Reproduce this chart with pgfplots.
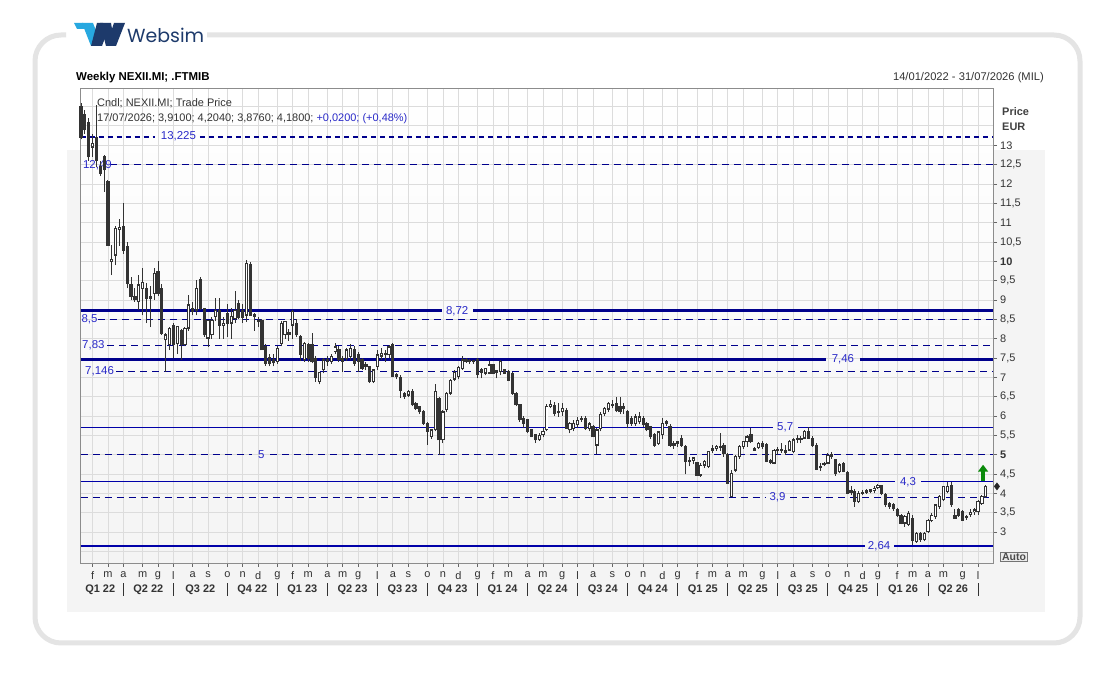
\documentclass[border=0pt]{standalone}
\usepackage{pgfplots}
\pgfplotsset{compat=1.18}
\usepackage{pgfplotstable}
\usepackage{fontspec}
\setmainfont{Liberation Sans}
\newfontfamily\logofont{Poppins}
\usetikzlibrary{arrows.meta}
\definecolor{cndl}{HTML}{333333}
\definecolor{navyl}{HTML}{00008C}
\definecolor{navyt}{HTML}{0000A8}
\definecolor{lblue}{HTML}{2A2AC8}
\definecolor{txt}{HTML}{333333}
\definecolor{gridc}{HTML}{DCDCDC}
\definecolor{framec}{HTML}{E4E4E4}
\definecolor{panelc}{HTML}{F4F4F4}
\definecolor{logoblue}{HTML}{27A8E0}
\definecolor{logonavy}{HTML}{1D3A6B}
\definecolor{arrowg}{HTML}{0A8A0A}
\newcommand{\fs}[1]{\fontsize{#1}{#1}\selectfont}

\pgfplotstableread{
i o h l c
0 14.00 14.10 13.15 13.20
1 13.80 13.90 13.30 13.40
2 13.60 13.70 12.60 12.70
3 12.95 13.30 12.70 13.05
4 13.20 14.05 12.45 12.60
5 12.45 12.60 12.20 12.28
6 12.70 12.75 11.80 12.36
7 12.06 12.10 10.40 10.42
8 10.00 10.42 9.64 10.05
9 10.16 10.90 9.90 10.85
10 10.82 11.10 10.40 10.88
11 10.90 11.50 10.20 10.29
12 10.38 10.50 9.30 9.43
13 9.39 9.60 9.00 9.10
14 9.10 9.30 8.95 9.00
15 8.96 9.65 8.74 9.39
16 9.30 9.82 8.60 9.45
17 9.30 9.45 8.40 9.04
18 9.09 9.35 8.30 9.04
19 9.17 9.82 9.00 9.69
20 9.73 10.02 9.10 9.17
21 9.30 9.40 8.10 8.14
22 7.97 8.15 7.146 8.10
23 7.84 8.30 7.70 8.27
24 8.35 8.40 7.49 7.84
25 7.88 8.32 7.60 8.31
26 8.22 8.25 7.45 7.84
27 7.84 8.30 7.80 8.27
28 8.27 9.13 8.20 8.87
29 8.78 8.95 8.60 8.70
30 8.74 9.52 8.60 9.30
31 9.52 9.60 8.75 8.78
32 8.78 8.80 8.05 8.10
33 8.01 8.40 7.79 8.48
34 8.10 8.55 8.00 8.48
35 8.57 9.04 8.45 8.74
36 8.74 9.04 8.00 8.35
37 8.35 8.55 8.00 8.40
38 8.66 8.90 8.05 8.40
39 8.40 8.78 8.00 8.57
40 8.52 9.22 8.40 8.74
41 8.90 9.00 8.50 8.55
42 8.74 8.90 8.40 8.55
43 8.61 10.03 8.44 9.95
44 9.92 9.98 8.60 8.61
45 8.62 8.65 8.20 8.58
46 8.46 8.55 8.30 8.44
47 8.48 8.52 7.70 7.71
48 7.79 7.85 7.30 7.36
49 7.50 7.60 7.28 7.36
50 7.45 7.60 7.28 7.38
51 7.41 7.80 7.35 7.75
52 7.88 8.45 7.80 8.40
53 8.10 8.45 8.00 8.44
54 8.16 8.25 7.95 8.12
55 8.35 8.74 8.00 8.70
56 8.40 8.50 8.05 8.10
57 8.05 8.10 7.42 7.60
58 7.45 7.92 7.40 7.88
59 7.84 7.88 7.40 7.49
60 7.84 8.14 7.36 7.40
61 7.49 7.55 6.89 7.00
62 6.89 7.15 6.82 7.12
63 7.19 7.50 7.10 7.45
64 7.45 7.55 7.30 7.41
65 7.41 7.60 7.35 7.54
66 7.67 7.88 7.60 7.79
67 7.73 7.80 7.40 7.45
68 7.49 7.55 7.15 7.41
69 7.49 7.75 7.42 7.71
70 7.54 7.85 7.45 7.75
71 7.71 7.80 7.30 7.36
72 7.58 7.65 7.15 7.41
73 7.45 7.50 7.20 7.23
74 7.32 7.40 7.20 7.28
75 7.28 7.30 6.85 6.89
76 6.89 7.20 6.85 7.19
77 7.28 7.70 7.20 7.58
78 7.55 7.75 7.45 7.62
79 7.62 7.70 7.40 7.59
80 7.58 7.84 7.50 7.79
81 7.84 7.90 7.00 7.02
82 7.06 7.10 6.95 7.02
83 7.00 7.05 6.46 6.67
84 6.59 6.62 6.45 6.50
85 6.54 6.68 6.50 6.63
86 6.63 6.70 6.25 6.29
87 6.33 6.35 6.15 6.20
88 6.24 6.25 6.05 6.11
89 6.11 6.15 5.78 5.81
90 5.81 5.85 5.25 5.60
91 5.47 5.65 5.40 5.64
92 5.64 6.82 5.60 6.63
93 6.46 6.50 4.99 5.38
94 5.38 6.15 5.30 6.11
95 6.16 6.62 6.10 6.59
96 6.59 6.95 6.55 6.93
97 6.95 7.20 6.90 7.12
98 7.02 7.30 6.95 7.26
99 7.23 7.54 7.20 7.45
100 7.45 7.50 7.38 7.42
101 7.41 7.47 7.35 7.44
102 7.43 7.46 7.35 7.40
103 7.45 7.50 6.98 7.08
104 7.19 7.25 6.97 7.13
105 7.11 7.25 7.05 7.23
106 7.11 7.41 7.08 7.32
107 7.32 7.35 7.08 7.11
108 7.17 7.20 6.97 7.13
109 7.15 7.45 7.05 7.41
110 7.19 7.22 7.08 7.11
111 7.15 7.18 6.90 6.93
112 7.11 7.13 6.55 6.59
113 6.59 6.62 6.25 6.29
114 6.29 6.30 5.85 5.90
115 5.94 6.00 5.68 5.81
116 5.90 5.92 5.55 5.60
117 5.64 5.66 5.45 5.47
118 5.51 5.53 5.30 5.38
119 5.38 5.55 5.36 5.50
120 5.51 5.70 5.45 5.60
121 5.64 6.30 5.60 6.24
122 6.24 6.41 6.20 6.30
123 6.28 6.35 6.00 6.07
124 6.12 6.33 5.98 6.10
125 6.11 6.33 6.00 6.20
126 6.15 6.20 5.68 5.68
127 5.64 5.85 5.55 5.81
128 5.68 5.90 5.60 5.81
129 5.77 5.98 5.70 5.89
130 5.92 6.00 5.85 5.94
131 5.94 6.00 5.65 5.68
132 5.68 5.85 5.60 5.80
133 5.72 5.78 5.45 5.46
134 5.25 5.70 5.03 5.64
135 5.68 6.10 5.60 6.05
136 6.07 6.22 6.00 6.20
137 6.18 6.36 6.10 6.33
138 6.28 6.42 6.20 6.30
139 6.33 6.50 6.10 6.13
140 6.24 6.50 6.05 6.11
141 6.20 6.33 6.05 6.24
142 6.11 6.15 5.68 5.81
143 5.94 6.00 5.75 5.81
144 5.81 6.05 5.75 5.98
145 5.85 6.10 5.80 5.98
146 5.94 6.00 5.72 5.77
147 5.80 5.85 5.60 5.64
148 5.72 5.75 5.40 5.46
149 5.51 5.55 5.20 5.25
150 5.29 5.60 5.25 5.59
151 5.51 5.94 5.40 5.81
152 5.85 5.90 5.75 5.80
153 5.72 5.80 5.20 5.25
154 5.25 5.35 5.15 5.29
155 5.30 5.35 5.20 5.33
156 5.42 5.51 5.20 5.25
157 5.21 5.25 4.49 4.82
158 4.86 4.95 4.70 4.82
159 4.86 4.95 4.75 4.92
160 4.80 4.82 4.45 4.47
161 4.47 4.78 4.43 4.73
162 4.73 4.85 4.65 4.82
163 4.70 5.10 4.65 5.08
164 5.12 5.25 5.05 5.16
165 5.16 5.25 5.10 5.21
166 5.19 5.55 5.10 5.21
167 5.25 5.30 4.95 5.03
168 5.00 5.05 4.25 4.26
169 3.91 4.60 3.90 4.52
170 4.60 5.00 4.55 4.95
171 4.95 5.25 4.90 5.21
172 5.21 5.35 5.15 5.35
173 5.33 5.50 5.20 5.46
174 5.51 5.68 5.30 5.33
175 5.16 5.20 5.10 5.12
176 5.18 5.33 5.15 5.29
177 5.28 5.35 5.15 5.21
178 5.27 5.30 4.80 4.82
179 4.84 4.90 4.75 4.80
180 4.78 5.15 4.75 5.12
181 5.10 5.20 5.00 5.12
182 5.10 5.30 5.05 5.14
183 5.12 5.25 5.00 5.05
184 5.12 5.38 5.10 5.34
185 5.08 5.43 5.05 5.38
186 5.40 5.52 5.30 5.43
187 5.38 5.48 5.30 5.42
188 5.43 5.64 5.40 5.60
189 5.60 5.71 5.40 5.43
190 5.43 5.48 5.20 5.25
191 5.25 5.30 4.60 4.62
192 4.66 4.78 4.58 4.69
193 4.74 4.82 4.70 4.78
194 4.78 5.04 4.75 4.99
195 5.00 5.06 4.90 4.95
196 4.87 4.90 4.45 4.52
197 4.56 4.78 4.52 4.74
198 4.78 4.80 4.54 4.56
199 4.54 4.58 3.98 4.00
200 4.03 4.18 3.95 4.07
201 4.05 4.10 3.66 3.79
202 3.79 4.05 3.75 4.00
203 4.00 4.08 3.95 4.03
204 4.03 4.10 3.98 4.07
205 4.05 4.12 4.00 4.09
206 4.07 4.18 4.00 4.13
207 4.15 4.25 4.10 4.20
208 4.20 4.22 3.95 4.00
209 3.96 4.00 3.65 3.70
210 3.74 3.78 3.60 3.66
211 3.72 3.75 3.55 3.60
212 3.59 3.62 3.40 3.44
213 3.44 3.46 3.20 3.23
214 3.23 3.45 3.14 3.40
215 3.20 3.55 3.15 3.49
216 3.36 3.44 2.67 2.78
217 2.76 3.00 2.72 2.97
218 2.95 3.00 2.75 2.80
219 2.80 3.00 2.76 2.97
220 3.01 3.35 2.98 3.31
221 3.30 3.50 3.25 3.44
222 3.40 3.70 3.35 3.70
223 3.66 3.95 3.60 3.92
224 3.83 4.20 3.80 4.18
225 4.05 4.30 4.00 4.18
226 4.20 4.30 3.65 3.70
227 3.44 3.60 3.35 3.36
228 3.57 3.62 3.40 3.44
229 3.53 3.56 3.30 3.31
230 3.38 3.45 3.32 3.40
231 3.45 3.60 3.40 3.50
232 3.52 3.62 3.45 3.57
233 3.53 3.83 3.45 3.79
234 3.74 3.95 3.70 3.92
235 3.91 4.204 3.876 4.18
}\candles

\begin{document}
\begin{tikzpicture}[x=1bp,y=1bp]
\fill[white] (0,0) rectangle (1114,680);
\path[use as bounding box] (0,0) rectangle (1114,680);
% outer frame
\draw[framec, line width=5bp, rounded corners=26bp] (66,645) -- (35,645) -- (35,37) -- (1080,37) -- (1080,645) -- (207,645);
% logo
\fill[logoblue] (74,657) -- (83,657) -- (86,651) -- (77,651) -- cycle;
\fill[logoblue] (82,657) -- (93,657) -- (102,634) -- (91,634) -- cycle;
\fill[logonavy] (91,634) -- (102,634) -- (108,650) -- (103,657) -- (97,657) -- cycle;
\fill[logonavy] (100,657) -- (111,657) -- (115,634) -- (106,634) -- cycle;
\fill[logonavy] (106,634) -- (116,634) -- (125,657) -- (114,657) -- cycle;
\node[anchor=west, inner sep=0, text=logonavy, font=\logofont\fs{19}] at (127,645) {Websim};
% panel
\fill[panelc] (67,68) rectangle (1045,530);
% titles
\node[anchor=base west, inner sep=0, text=black, font=\bfseries\fs{11.5}] at (76,599) {Weekly NEXII.MI; .FTMIB};
\node[anchor=base east, inner sep=0, text=txt, font=\fs{11.2}] at (1044,599) {14/01/2022 - 31/07/2026 (MIL)};

\begin{axis}[
  at={(80.5bp,117bp)}, anchor=south west, scale only axis,
  width=912.5bp, height=475bp,
  xmin=-0.13, xmax=236.88, ymin=2.20, ymax=14.48,
  clip=false,
  axis line style={draw=black!45, line width=0.8bp},
  axis background/.style={shade, top color=white, bottom color=panelc},
  grid=major, grid style={draw=gridc, line width=0.8bp},
  tick style={draw=black!60, line width=0.8bp},
  tick align=outside, major tick length=4bp,
  xtick={3,7,11,16,20,24,29,33,38,42,46,51,55,59,64,68,72,77,81,85,90,94,98,103,107,111,116,120,125,129,133,138,142,146,151,155,160,164,168,172,177,181,185,190,194,199,203,207,212,216,220,224,229,233},
  xticklabels={f,m,a,m,g,l,a,s,o,n,d,g,f,m,a,m,g,l,a,s,o,n,d,g,f,m,a,m,g,l,a,s,o,n,d,g,f,m,a,m,g,l,a,s,o,n,d,g,f,m,a,m,g,l},
  xtick pos=bottom,
  xticklabel style={font=\fs{11}, text=txt, inner sep=1bp, yshift=-3bp},
  ytick={3,3.5,4,4.5,5,5.5,6,6.5,7,7.5,8,8.5,9,9.5,10,10.5,11,11.5,12,12.5,13},
  yticklabels={3,{3,5},4,{4,5},\textbf{5},{5,5},6,{6,5},7,{7,5},8,{8,5},9,{9,5},\textbf{10},{10,5},11,{11,5},12,{12,5},13},
  ytick pos=right, yticklabel pos=right,
  yticklabel style={font=\fs{11}, text=txt, anchor=west, inner sep=0bp, xshift=3bp},
  extra y ticks={2.5,13.5,14},
  extra y tick labels={},
  extra y tick style={grid=major, major tick length=0bp},
]
% reference lines
\addplot[navyl, line width=2bp, dash pattern=on 5bp off 4bp] coordinates {(-0.13,13.225) (19.2,13.225)};
\addplot[navyl, line width=2bp, dash pattern=on 5bp off 4bp] coordinates {(30.9,13.225) (236.88,13.225)};
\addplot[navyl, line width=1bp, dash pattern=on 7bp off 5bp] coordinates {(7.5,12.49) (236.88,12.49)};
\addplot[navyl, line width=3bp] coordinates {(-0.13,8.72) (93.7,8.72)};
\addplot[navyl, line width=3bp] coordinates {(101.9,8.72) (236.88,8.72)};
\addplot[navyl, line width=1.1bp, dash pattern=on 7bp off 5bp] coordinates {(4.4,8.5) (236.88,8.5)};
\addplot[navyl, line width=1.1bp, dash pattern=on 7bp off 5bp] coordinates {(6.8,7.83) (236.88,7.83)};
\addplot[navyl, line width=3bp] coordinates {(-0.13,7.46) (193.5,7.46)};
\addplot[navyl, line width=3bp] coordinates {(202.3,7.46) (236.88,7.46)};
\addplot[navyl, line width=1.1bp, dash pattern=on 7bp off 5bp] coordinates {(9.2,7.146) (236.88,7.146)};
\addplot[navyt, line width=1.3bp] coordinates {(-0.13,5.7) (179.8,5.7)};
\addplot[navyt, line width=1.3bp] coordinates {(186.3,5.7) (236.88,5.7)};
\addplot[navyl, line width=1.1bp, dash pattern=on 7bp off 5bp] coordinates {(-0.13,5) (44.4,5)};
\addplot[navyl, line width=1.1bp, dash pattern=on 7bp off 5bp] coordinates {(49.1,5) (236.88,5)};
\addplot[navyt, line width=1.3bp] coordinates {(-0.13,4.3) (211.4,4.3)};
\addplot[navyt, line width=1.3bp] coordinates {(218.3,4.3) (236.88,4.3)};
\addplot[navyl, line width=1.1bp, dash pattern=on 7bp off 5bp] coordinates {(-0.13,3.9) (177.7,3.9)};
\addplot[navyl, line width=1.1bp, dash pattern=on 7bp off 5bp] coordinates {(184.2,3.9) (236.88,3.9)};
\addplot[navyt, line width=1.2bp] coordinates {(-0.13,2.64) (203.5,2.64)};
\addplot[navyt, line width=1.2bp] coordinates {(211.2,2.64) (236.88,2.64)};
% line labels
\node[text=lblue, font=\fs{11.5}, inner sep=0] at (axis cs:25.3,13.225) {13,225};
\node[text=lblue, font=\fs{11.5}, inner sep=0, anchor=west] at (axis cs:0.5,12.49) {12,49};
\node[text=lblue, font=\fs{11.5}, inner sep=0] at (axis cs:97.7,8.72) {8,72};
\node[text=lblue, font=\fs{11.5}, inner sep=0, anchor=west] at (axis cs:0.1,8.5) {8,5};
\node[text=lblue, font=\fs{11.5}, inner sep=0, anchor=west] at (axis cs:0.26,7.83) {7,83};
\node[text=lblue, font=\fs{11.5}, inner sep=0] at (axis cs:197.9,7.46) {7,46};
\node[text=lblue, font=\fs{11.5}, inner sep=0, anchor=west] at (axis cs:1.04,7.146) {7,146};
\node[text=lblue, font=\fs{11.5}, inner sep=0] at (axis cs:182.9,5.7) {5,7};
\node[text=lblue, font=\fs{11.5}, inner sep=0] at (axis cs:46.8,5) {5};
\node[text=lblue, font=\fs{11.5}, inner sep=0] at (axis cs:214.8,4.3) {4,3};
\node[text=lblue, font=\fs{11.5}, inner sep=0] at (axis cs:180.9,3.9) {3,9};
\node[text=lblue, font=\fs{11.5}, inner sep=0] at (axis cs:207.3,2.64) {2,64};
% candles: wicks (low -> high)
\addplot[cndl, line width=1bp, -, quiver={u=0, v=\thisrow{h}-\thisrow{l}, scale arrows=1}]
  table[x=i, y=l] {\candles};
% bodies: dark rectangle for every candle
\addplot[cndl, line width=3.2bp, -, quiver={u=0, v={max(abs(\thisrow{c}-\thisrow{o}),0.026)+0.026}, scale arrows=1}]
  table[x=i, y expr={min(\thisrow{o},\thisrow{c})-0.013}] {\candles};
% hollow interior for rising candles
\addplot[white, line width=1.3bp, -, quiver={u=0, v={max(\thisrow{c}-\thisrow{o}-0.04,0)}, scale arrows=1}]
  table[x=i, y expr={\thisrow{o}+0.02}] {\candles};
% last price marker and signal arrow
\addplot[only marks, mark=diamond*, mark size=3.6bp, mark options={fill=black!85, draw=black!85}] coordinates {(237.9,4.18)};
\addplot[arrowg, line width=3.4bp, -{Triangle[width=10bp,length=7bp]}] coordinates {(234.3,4.32) (234.3,4.74)};
\end{axis}

% quarter labels
\foreach \q/\t in {5/Q1 22,17.5/Q2 22,31/Q3 22,44.5/Q4 22,57.5/Q1 23,70.5/Q2 23,83.5/Q3 23,96.5/Q4 23,109.5/Q1 24,122.5/Q2 24,135.5/Q3 24,148.5/Q4 24,161.5/Q1 25,174.5/Q2 25,187.5/Q3 25,200.5/Q4 25,213.5/Q1 26,226.5/Q2 26}
  \node[text=txt, font=\bfseries\fs{11}, inner sep=0] at ({81+3.85*\q},90) {\t};
\foreach \b in {11,24,38,51,64,77,90,103,116,129,142,155,168,181,194,207,220,233}
  \draw[txt, line width=1bp] ({81+3.85*\b},84) -- ({81+3.85*\b},97);
% legend text
\node[anchor=base west, inner sep=0, text=txt, font=\fs{11}] at (97,573) {Cndl; NEXII.MI; Trade Price};
\node[anchor=base west, inner sep=0, text=txt, font=\fs{11}] at (97,558) {17/07/2026; 3,9100; 4,2040; 3,8760; 4,1800; \textcolor{lblue}{+0,0200; (+0,48\%)}};
% price axis title
\node[anchor=base west, inner sep=0, text=black!75, font=\bfseries\fs{11}] at (1002,564) {Price};
\node[anchor=base west, inner sep=0, text=black!75, font=\bfseries\fs{11}] at (1002,549) {EUR};
% Auto box
\node[draw=black!55, fill=black!8, line width=1bp, text=black!70, font=\bfseries\fs{10.5}, inner sep=1.2bp] at (1014,123) {Auto};
\end{tikzpicture}
\end{document}
